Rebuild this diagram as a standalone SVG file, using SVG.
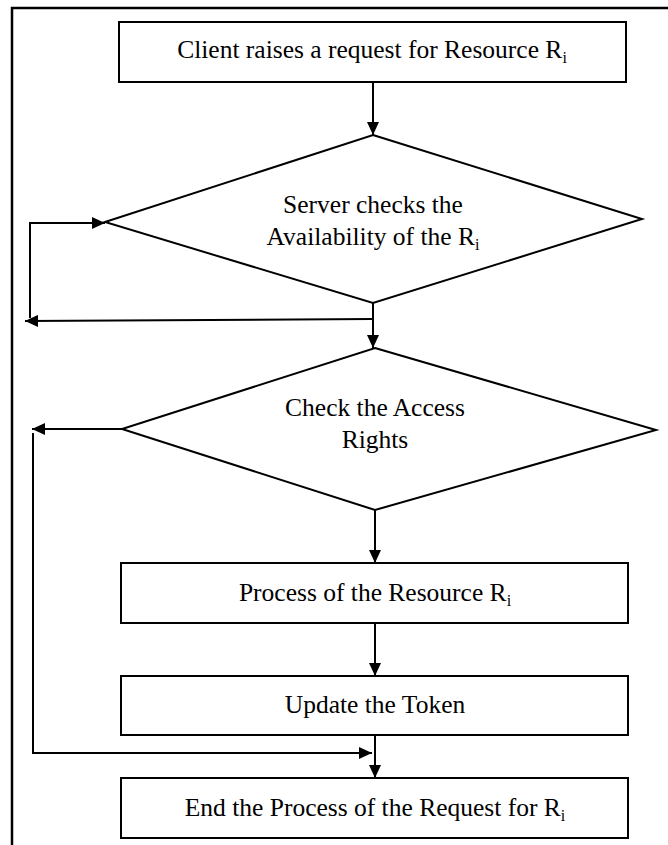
<svg xmlns="http://www.w3.org/2000/svg" width="668" height="845" viewBox="0 0 668 845">
<style>
.shape{fill:#fff;stroke:#000;stroke-width:2}
.conn{fill:none;stroke:#000;stroke-width:2}
text{font-family:"Liberation Serif","Times New Roman",serif;font-size:25.5px;fill:#000;text-anchor:middle}
.sub{font-size:16px}
</style>
<defs>
<marker id="arr" viewBox="0 0 13 12" refX="13" refY="6" markerWidth="13" markerHeight="12" markerUnits="userSpaceOnUse" orient="auto">
<path d="M0,0 L13,6 L0,12 Z" fill="#000"/>
</marker>
</defs>
<rect x="12" y="8" width="670" height="850" fill="none" stroke="#000" stroke-width="2.5"/>
<g id="connectors">
<path class="conn" d="M373,82 L373,135" marker-end="url(#arr)"/>
<path class="conn" d="M373,303 L373,348" marker-end="url(#arr)"/>
<path class="conn" d="M373,319 L25,321" marker-end="url(#arr)"/>
<path class="conn" d="M30,318 L30,223 L105,223" marker-end="url(#arr)"/>
<path class="conn" d="M122,429 L32,429" marker-end="url(#arr)"/>
<path class="conn" d="M33,433 L33,753 L372,753" marker-end="url(#arr)"/>
<path class="conn" d="M375,510 L375,563" marker-end="url(#arr)"/>
<path class="conn" d="M375,623 L375,676" marker-end="url(#arr)"/>
<path class="conn" d="M375,735 L375,778" marker-end="url(#arr)"/>
</g>
<g id="n1">
<rect class="shape" x="119" y="22" width="507" height="60"/>
<text x="372" y="58">Client raises a request for Resource R<tspan class="sub" dy="5">i</tspan></text>
</g>
<g id="n2">
<polygon class="shape" points="373,135 642,219 373,303 105,222"/>
<text x="373" y="213">Server checks the</text>
<text x="373" y="245">Availability of the R<tspan class="sub" dy="5">i</tspan></text>
</g>
<g id="n3">
<polygon class="shape" points="375,348 656,430 375,510 122,429"/>
<text x="375" y="416">Check the Access</text>
<text x="375" y="448">Rights</text>
</g>
<g id="n4">
<rect class="shape" x="121" y="563" width="507" height="60"/>
<text x="375" y="601">Process of the Resource R<tspan class="sub" dy="5">i</tspan></text>
</g>
<g id="n5">
<rect class="shape" x="121" y="676" width="507" height="59"/>
<text x="375" y="713">Update the Token</text>
</g>
<g id="n6">
<rect class="shape" x="121" y="778" width="507" height="60"/>
<text x="375" y="816">End the Process of the Request for R<tspan class="sub" dy="5">i</tspan></text>
</g>
</svg>
